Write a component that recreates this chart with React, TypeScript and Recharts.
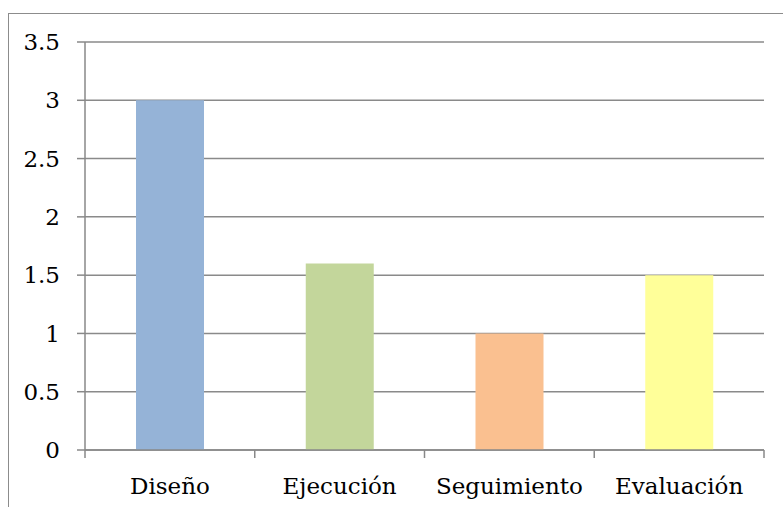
import React from 'react';
import { BarChart, Bar, XAxis, YAxis, CartesianGrid, Cell } from 'recharts';

const categories = ['Diseño', 'Ejecución', 'Seguimiento', 'Evaluación'];
const values = [3, 1.6, 1, 1.5];
const barColors = ['#95B3D7', '#C3D69B', '#FAC090', '#FFFF99'];
const yTicks = [0, 0.5, 1, 1.5, 2, 2.5, 3, 3.5];

const data = categories.map((name, i) => ({ name, value: values[i] }));

const CHART_W = 774;
const CHART_H = 493;
const MARGIN = { top: 28, right: 19, bottom: 0, left: 0 };
const Y_AXIS_W = 76;
const PLOT_W = CHART_W - MARGIN.left - MARGIN.right - Y_AXIS_W;
const HALF_BAND = PLOT_W / categories.length / 2;

const AXIS_COLOR = '#888888';
const FONT = 'DejaVu Serif';
const FONT_SIZE = 23;

// Category label with tick marks on the band boundaries instead of the band centre
const CategoryTick = (props: any) => {
  const { x, y, payload, index } = props;
  return (
    <g>
      {index === 0 && (
        <line x1={x - HALF_BAND} x2={x - HALF_BAND} y1={y} y2={y + 8} stroke={AXIS_COLOR} strokeWidth={1.5} />
      )}
      <line x1={x + HALF_BAND} x2={x + HALF_BAND} y1={y} y2={y + 8} stroke={AXIS_COLOR} strokeWidth={1.5} />
      <text x={x} y={y + 44} textAnchor="middle" fill="#000" fontSize={FONT_SIZE} fontFamily={FONT}>
        {payload.value}
      </text>
    </g>
  );
};

export default function App() {
  return (
    <div
      style={{
        position: 'fixed',
        top: 13,
        left: 8,
        width: 775,
        height: 494,
        boxSizing: 'border-box',
        borderLeft: '1px solid #8c8c8c',
        borderTop: '1px solid #8c8c8c',
        background: '#fff',
      }}
    >
      <BarChart width={CHART_W} height={CHART_H} data={data} margin={MARGIN}>
        <CartesianGrid vertical={false} stroke="#8a8a8a" strokeWidth={1.5} />
        <XAxis
          dataKey="name"
          height={57}
          tickLine={false}
          tickSize={0}
          tickMargin={0}
          axisLine={{ stroke: AXIS_COLOR, strokeWidth: 1.5 }}
          tick={<CategoryTick />}
          interval={0}
        />
        <YAxis
          width={Y_AXIS_W}
          domain={[0, 3.5]}
          ticks={yTicks}
          interval={0}
          tickSize={8}
          tickMargin={17}
          tickLine={{ stroke: AXIS_COLOR, strokeWidth: 1.5 }}
          axisLine={{ stroke: AXIS_COLOR, strokeWidth: 1.5 }}
          tick={{ fill: '#000', fontSize: FONT_SIZE, fontFamily: FONT }}
        />
        <Bar dataKey="value" barSize={68} isAnimationActive={false}>
          {data.map((d, i) => (
            <Cell key={d.name} fill={barColors[i]} />
          ))}
        </Bar>
      </BarChart>
    </div>
  );
}
